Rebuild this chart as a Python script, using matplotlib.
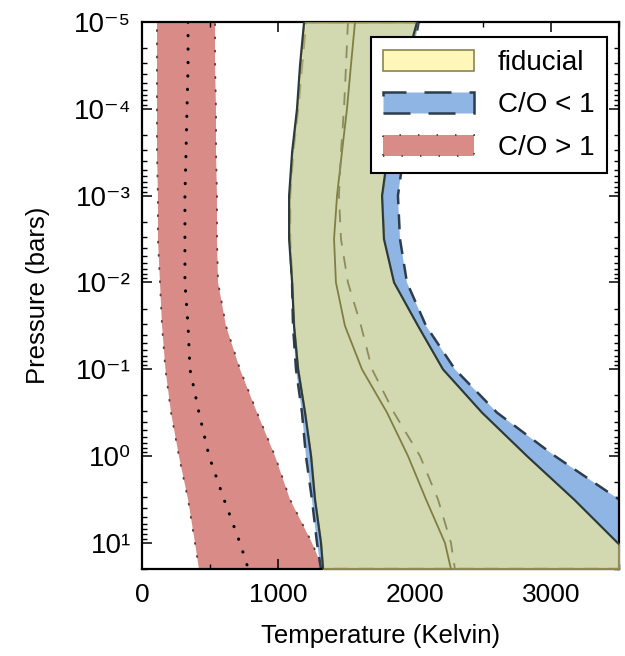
import numpy as np
import matplotlib.pyplot as plt
from matplotlib.ticker import LogLocator, MultipleLocator, NullFormatter

plt.rcParams['font.family'] = ['Liberation Sans', 'DejaVu Sans']

# pressure levels (bars) and temperature bounds / medians (K)
pressure = [1e-5, 3.16e-5, 1e-4, 3.16e-4, 1e-3, 3.16e-3, 1e-2, 3.16e-2,
            0.1, 0.316, 1.0, 3.16, 10.0, 20.0]

fid_lo = [1189, 1159, 1137, 1101, 1079, 1079, 1101, 1115, 1145, 1196, 1240, 1269, 1313, 1328]
fid_hi = [2018, 1930, 1856, 1805, 1761, 1775, 1849, 2025, 2208, 2495, 2825, 3170, 3490, 3720]
fid_med = [1563, 1533, 1504, 1467, 1431, 1409, 1423, 1489, 1614, 1798, 1952, 2084, 2223, 2267]

lt1_lo = [1203, 1174, 1145, 1108, 1086, 1086, 1101, 1108, 1130, 1174, 1203, 1247, 1284, 1313]
lt1_hi = [2030, 1970, 1944, 1922, 1878, 1893, 1944, 2084, 2296, 2605, 3030, 3500, 3900, 4150]
lt1_med = [1511, 1497, 1482, 1460, 1445, 1460, 1511, 1607, 1688, 1849, 2040, 2172, 2267, 2296]

gt1_lo = [110, 110, 110, 110, 117, 117, 132, 147, 172, 213, 271, 338, 389, 418]
gt1_hi = [536, 536, 543, 543, 550, 550, 558, 616, 719, 844, 976, 1086, 1247, 1328]
gt1_med = [338, 338, 330, 323, 315, 315, 315, 338, 352, 418, 492, 602, 719, 780]

p_ticks = [1e-5, 1e-4, 1e-3, 1e-2, 1e-1, 1e0, 1e1]
p_labels = ['10⁻⁵', '10⁻⁴', '10⁻³', '10⁻²', '10⁻¹', '10⁰', '10¹']
t_ticks = [0, 1000, 2000, 3000]

fig = plt.figure(figsize=(6.25, 6.56), dpi=100)
ax = fig.add_axes([0.2272, 0.1326, 0.7632, 0.8338])

red = ax.fill_betweenx(pressure, gt1_lo, gt1_hi, facecolor='#d98b87',
                       edgecolor='#6e3b3b', linewidth=1.4,
                       linestyle=(0, (0.5, 6.3)), capstyle='round',
                       label='C/O > 1', zorder=1)
blue = ax.fill_betweenx(pressure, lt1_lo, lt1_hi, facecolor='#8fb5e5',
                        edgecolor='#2c3d4c', linewidth=1.8,
                        linestyle=(0, (6, 4)), label='C/O < 1', zorder=2)
fid = ax.fill_betweenx(pressure, fid_lo, fid_hi,
                       facecolor=(1.0, 0.94, 0.55, 0.6),
                       edgecolor='#8a8550', linewidth=1.2,
                       label='fiducial', zorder=3)

# outer edges of the fiducial envelope
ax.plot(fid_lo, pressure, color='#2b3a3d', lw=1.5, zorder=4)
ax.plot(fid_hi, pressure, color='#2b3a3d', lw=1.5, zorder=4)

# median profiles
ax.plot(fid_med, pressure, color='#7f7f45', lw=1.3, zorder=5)
ax.plot(lt1_med, pressure, color='#8c8c5c', lw=1.3, ls=(0, (7, 6)), zorder=5)
ax.plot(gt1_med, pressure, color='black', lw=2.2, ls=(0, (0.1, 4.3)),
        dash_capstyle='round', zorder=5)

ax.set_yscale('log')
ax.set_ylim(20, 1e-5)
ax.set_xlim(0, 3500)
ax.set_xticks(t_ticks)
ax.xaxis.set_minor_locator(MultipleLocator(500))
ax.set_yticks(p_ticks)
ax.set_yticklabels(p_labels)
ax.yaxis.set_minor_locator(LogLocator(base=10, subs=np.arange(2, 10), numticks=100))
ax.yaxis.set_minor_formatter(NullFormatter())

ax.tick_params(which='both', direction='in', top=True, right=True, labelsize=19)
ax.tick_params(axis='y', labelsize=20)
ax.tick_params(which='major', length=7, width=1.1, pad=8)
ax.tick_params(axis='x', which='major', pad=10)
ax.tick_params(which='minor', length=3.5, width=1.0)
for s in ax.spines.values():
    s.set_linewidth(1.6)

ax.set_xlabel('Temperature (Kelvin)', fontsize=18.5, va='center')
ax.xaxis.set_label_coords(0.5, -0.1225)
ax.set_ylabel('Pressure (bars)', fontsize=18.5, va='center')
ax.yaxis.set_label_coords(-0.218, 0.5)

leg = ax.legend(handles=[fid, blue, red], loc='upper right',
                bbox_to_anchor=(0.975, 0.9726), borderaxespad=0,
                fontsize=20, handlelength=3.27, handleheight=0.79,
                handletextpad=0.86, borderpad=0.45, labelspacing=0.59,
                fancybox=False, framealpha=1)
leg.get_frame().set_edgecolor('black')
leg.get_frame().set_linewidth(1.5)

fig.savefig('out.png', dpi=100)
